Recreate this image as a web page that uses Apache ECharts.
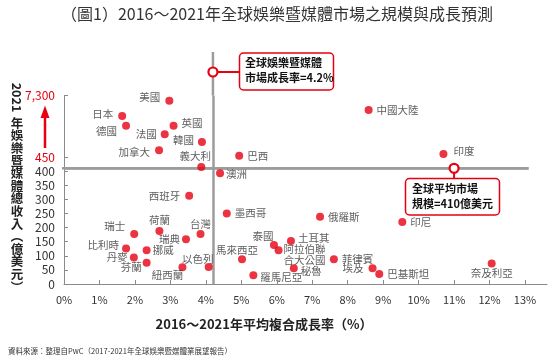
<!DOCTYPE html>
<html><head><meta charset="utf-8">
<script src="https://cdn.jsdelivr.net/npm/echarts@6/dist/echarts.min.js"></script>
<style>html,body{margin:0;padding:0;background:#fff}#c{width:554px;height:359px}</style>
</head><body><div id="c"></div>
<script>
// ---- data ----
const countries = ['美國','日本','德國','英國','法國','韓國','加拿大','中國大陸','巴西','印度','義大利','澳洲','西班牙','墨西哥','俄羅斯','印尼','瑞士','台灣','荷蘭','瑞典','土耳其','泰國','比利時','挪威','阿拉伯聯合大公國','丹麥','馬來西亞','菲律賓','芬蘭','奈及利亞','以色列','紐西蘭','秘魯','埃及','巴基斯坦','羅馬尼亞'];
const growth   = [2.97,1.64,1.75,3.09,2.84,3.89,2.68,8.59,4.94,10.70,3.87,4.40,3.53,4.59,7.22,9.54,1.98,3.85,2.69,3.44,6.40,5.92,1.75,2.33,6.05,1.97,5.02,7.61,2.33,12.06,4.08,3.34,6.48,8.70,8.89,5.34];
const revenue  = [6740,5030,3950,3950,2990,2130,1200,5700,600,790,415,392,313,250,238,220,177,177,188,159,152,138,126,120,120,94,88,88,75,73,60,59,56,56,35,31];
const xTicks = [0,1,2,3,4,5,6,7,8,9,10,11,12,13];
const yLowMax = 450;
const yTopTick = 7300;
const avgGrowth = 4.2;   // global market growth rate
const avgSize = 410;     // global average market size

// ---- label placement (style only) ----
const RED = '#e60012';
const labelCfg = {
  '美國':['left',5,0,-4],'日本':['left',5,0,-2],'德國':['left',5,0,5],'英國':['right',4,0,-3],
  '法國':['left',4,0,0],'韓國':['left',4,0,-2],'加拿大':['left',5,0,2],'中國大陸':['right',4,0,0],
  '巴西':['right',4,0,0],'印度':['right',6,0,-3],'義大利':['top',1,-6,0],'澳洲':['right',2,0,1],
  '西班牙':['left',5,0,0],'墨西哥':['right',4,0,0],'俄羅斯':['right',4,0,0],'印尼':['right',4,0,0],
  '瑞士':['left',5,0,-8],'台灣':['top',1,0,0],'荷蘭':['top',1,0,0],'瑞典':['left',2,0,0],
  '土耳其':['right',3,0,-3],'泰國':['top',0,-11,0],'比利時':['left',3,0,-3],'挪威':['right',2,0,0],
  '阿拉伯聯合大公國':['right',1,0,4],'丹麥':['left',2,0,0],'馬來西亞':['top',0,-5,0],'菲律賓':['right',4,0,0],
  '芬蘭':['left',1,0,4],'奈及利亞':['bottom',0,0,0],'以色列':['top',0,-11,1],'紐西蘭':['bottom',0,-15,-2],
  '秘魯':['right',3,0,3],'埃及':['left',5,0,0],'巴基斯坦':['right',4,0,0],'羅馬尼亞':['right',3,0,2]
};
const labelText = {'阿拉伯聯合大公國':'阿拉伯聯\n合大公國'};

function buildData(upper){
  const out=[];
  countries.forEach((n,i)=>{
    const isUp = revenue[i] > yLowMax;
    if (isUp !== upper) return;
    const c = labelCfg[n] || ['right',4,0,0];
    out.push({name:n, value:[growth[i], revenue[i]],
      label:{show:true, position:c[0], distance:c[1], offset:[c[2],c[3]],
        formatter: labelText[n] || n}});
  });
  return out;
}

const FONT = '"Noto Sans CJK TC","Noto Sans",sans-serif';
const REFC = '#9c9c9c';
const lineStyleRef = {color:REFC, width:2.5, type:'solid'};

const chart = echarts.init(document.getElementById('c'), null, {renderer:'canvas'});
const option = {
  animation:false,
  textStyle:{fontFamily:FONT},
  grid:[
    {left:64, right:7, top:157, height:127},
    {left:64, right:7, top:95.7, height:61.3}
  ],
  xAxis:[
    {gridIndex:0, type:'value', min:0, max:13.62,
     axisLine:{show:true, lineStyle:{color:'#8a8a8a', width:1}},
     axisTick:{show:true, inside:true, length:4, customValues:xTicks, lineStyle:{color:'#8a8a8a'}},
     axisLabel:{customValues:xTicks, formatter:v=>v+'%', color:'#333', fontSize:11, margin:10, fontFamily:FONT},
     splitLine:{show:false}},
    {gridIndex:1, type:'value', min:0, max:13.62, show:false}
  ],
  yAxis:[
    {gridIndex:0, type:'value', min:0, max:yLowMax, interval:50,
     axisLine:{show:true, lineStyle:{color:'#8a8a8a', width:1}},
     axisTick:{show:true, inside:true, length:4, lineStyle:{color:'#8a8a8a'}},
     axisLabel:{color:'#333', fontSize:12, margin:9, fontFamily:FONT,
       formatter:v=> v===yLowMax ? '{r|'+v+'}' : String(v),
       rich:{r:{color:RED, fontSize:12, fontFamily:FONT}}},
     splitLine:{show:false}},
    {gridIndex:1, type:'value', min:yLowMax, max:yTopTick,
     axisLine:{show:true, lineStyle:{color:'#8a8a8a', width:1}},
     axisTick:{show:true, inside:true, length:4, customValues:[yTopTick], lineStyle:{color:'#8a8a8a'}},
     axisLabel:{customValues:[yTopTick], color:RED, fontSize:12, margin:9, fontFamily:FONT,
       formatter:v=>v.toLocaleString('en-US')},
     splitLine:{show:false}}
  ],
  series:[
    {type:'scatter', xAxisIndex:0, yAxisIndex:0, clip:false, symbolSize:8, z:5,
     itemStyle:{color:RED},
     label:{color:'#333', fontSize:10.5, lineHeight:11, fontFamily:FONT},
     data:buildData(false),
     markLine:{silent:true, symbol:'none', lineStyle:lineStyleRef, label:{show:false}, z:3,
       data:[
         [{coord:[avgGrowth,0]},{coord:[avgGrowth,yLowMax]}],
         [{coord:[0,avgSize]},{coord:[13.1,avgSize]}]
       ]}},
    {type:'scatter', xAxisIndex:1, yAxisIndex:1, clip:false, symbolSize:8, z:5,
     itemStyle:{color:RED},
     label:{color:'#333', fontSize:10.5, lineHeight:11, fontFamily:FONT},
     data:buildData(true),
     markLine:{silent:true, symbol:'none', lineStyle:lineStyleRef, label:{show:false}, z:3,
       data:[[{coord:[avgGrowth,yLowMax]},{coord:[avgGrowth,yTopTick]}]]}}
  ]
};
chart.setOption(option);

const pTop = chart.convertToPixel({xAxisIndex:1, yAxisIndex:1}, [avgGrowth, yTopTick]);
const pAvg = chart.convertToPixel({xAxisIndex:0, yAxisIndex:0}, [11, avgSize]);
const pL = chart.convertToPixel({xAxisIndex:0, yAxisIndex:0}, [0, avgSize]);
const pR = chart.convertToPixel({xAxisIndex:0, yAxisIndex:0}, [13.1, avgSize]);
const cy1 = 72;

chart.setOption({
  graphic:[
    {type:'text', left:'center', top:6, style:{text:'（圖1）2016～2021年全球娛樂暨媒體市場之規模與成長預測', fill:'#333', font:'16px '+FONT}, x:-7},
    // y axis title
    {type:'text', x:17, y:97.5, rotation:-Math.PI/2, style:{text:'2021', fill:'#222', font:'bold 12.5px '+FONT, textAlign:'center', textVerticalAlign:'middle'}},
    {type:'text', x:17, y:116.7, style:{text:'年\n娛\n樂\n暨\n媒\n體\n總\n收\n入\n︵\n億\n美\n元\n︶', fill:'#222', font:'bold 12.5px '+FONT, lineHeight:12.6, textAlign:'center'}},
    // red arrow
    {type:'line', shape:{x1:45, y1:148, x2:45, y2:116}, style:{stroke:RED, lineWidth:2.5}},
    {type:'polygon', shape:{points:[[45,105.5],[40.5,118],[49.5,118]]}, style:{fill:RED}},
    // x axis title
    {type:'text', x:264, y:324, style:{text:'2016～2021年平均複合成長率（%）', fill:'#222', font:'bold 13px '+FONT, textAlign:'center', textVerticalAlign:'middle'}},
    // source
    {type:'text', x:8, y:351, style:{text:'資料來源：整理自PwC（2017-2021年全球娛樂暨媒體業展望報告）', fill:'#333', font:'7.5px '+FONT, textVerticalAlign:'middle'}},
    // reference line extensions
    {type:'line', z:3, shape:{x1:pTop[0], y1:52, x2:pTop[0], y2:pTop[1]}, style:{stroke:REFC, lineWidth:2.5}},
    {type:'line', z:3, shape:{x1:pL[0]-2, y1:pL[1], x2:pR[0], y2:pR[1]}, style:{stroke:REFC, lineWidth:2.5}},
    // callout 1
    {type:'line', z:20, shape:{x1:pTop[0], y1:cy1, x2:239.5, y2:cy1}, style:{stroke:RED, lineWidth:2}},
    {type:'rect', z:20, shape:{x:239.5, y:53, width:94, height:37, r:4}, style:{fill:'#fff', stroke:RED, lineWidth:1.5}},
    {type:'text', z:21, x:245, y:70.5, style:{text:'全球娛樂暨媒體\n市場成長率=4.2%', fill:'#111', font:'bold 11px '+FONT, lineHeight:15, textVerticalAlign:'middle'}},
    {type:'circle', z:22, shape:{cx:pTop[0], cy:cy1, r:4.5}, style:{fill:'#fff', stroke:RED, lineWidth:2.2}},
    // callout 2
    {type:'line', z:20, shape:{x1:pAvg[0], y1:pAvg[1], x2:pAvg[0], y2:178.5}, style:{stroke:RED, lineWidth:2}},
    {type:'rect', z:20, shape:{x:405.5, y:178.5, width:94, height:36.5, r:4}, style:{fill:'#fff', stroke:RED, lineWidth:1.5}},
    {type:'text', z:21, x:412, y:196.5, style:{text:'全球平均市場\n規模=410億美元', fill:'#111', font:'bold 11px '+FONT, lineHeight:14.5, textVerticalAlign:'middle'}},
    {type:'circle', z:22, shape:{cx:pAvg[0], cy:pAvg[1], r:4.5}, style:{fill:'#fff', stroke:RED, lineWidth:2.2}}
  ]
});
</script></body></html>
